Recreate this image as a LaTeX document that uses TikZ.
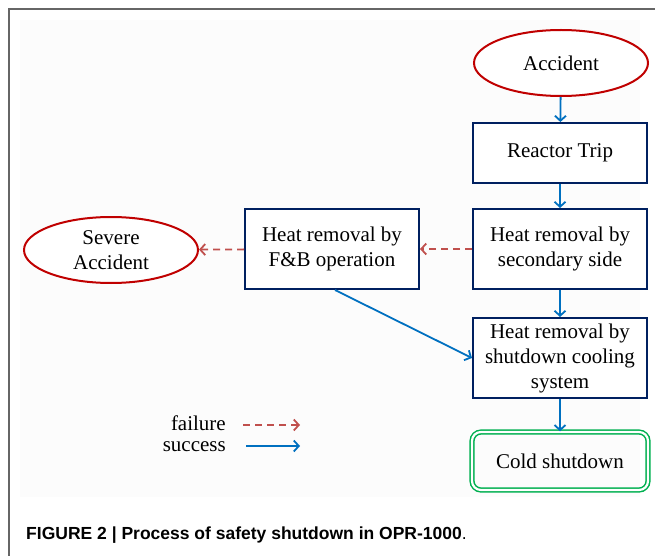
\documentclass[tikz,border=0pt]{standalone}
\usepackage{fontspec}
\setmainfont{Liberation Serif}
\newfontfamily\capfont{Liberation Sans}
\usetikzlibrary{shapes.geometric,arrows.meta}

\definecolor{boxblue}{RGB}{0,32,96}
\definecolor{okblue}{RGB}{0,112,192}
\definecolor{failred}{RGB}{192,80,77}
\definecolor{endred}{RGB}{192,0,0}
\definecolor{endgreen}{RGB}{0,176,80}

\tikzset{
  stage/.style={draw=boxblue, line width=2pt, fill=white, align=center,
    minimum width=174pt, minimum height=80pt, inner sep=2pt},
  endstate/.style={ellipse, draw=endred, line width=2pt, fill=white, align=center,
    minimum width=174pt, minimum height=66pt, inner sep=0pt},
  safestate/.style={draw=endgreen, double=white, line width=1.5pt, double distance=2.2pt,
    rounded corners=9pt, align=center, minimum width=176pt, minimum height=58pt},
  success/.style={draw=okblue, line width=1.8pt, -{Straight Barb[length=5pt,width=11pt]}},
  failure/.style={draw=failred, line width=1.8pt, dash pattern=on 7pt off 5pt,
    -{Straight Barb[length=5pt,width=11pt]}}
}

\begin{document}
\begin{tikzpicture}[x=1pt, y=-1pt, font=\fontsize{21}{25}\selectfont]
  \useasboundingbox (0,0) rectangle (655,556);
  % frame and panel
  \fill[black!1] (20,20) rectangle (640,497);
  \draw[black!60, line width=1.2pt] (9,556) -- (9,9) -- (655,9);

  % main chain
  \node[endstate] (acc) at (561,63) {Accident};
  \node[stage, minimum height=60pt] (trip) at (560,153) {Reactor Trip};
  \node[stage] (sec) at (560,249) {Heat removal by\\secondary side};
  \node[stage] (fb) at (332,249) {Heat removal by\\F\&B operation};
  \node[endstate] (severe) at (111,250) {Severe\\Accident};
  \node[stage] (sdc) at (560,358) {Heat removal by\\shutdown cooling\\system};
  \node[safestate] (cold) at (560,461) {Cold shutdown};

  \draw[success] (acc) -- (trip);
  \draw[success] (trip) -- (sec);
  \draw[success] (sec) -- (sdc);
  \draw[success] (sdc) -- (cold);
  \draw[success] (fb.south) ++(3,0) coordinate (fbout) (fbout) -- (sdc.west);
  \draw[failure] (sec) -- (fb);
  \draw[failure] (fb) -- (severe);

  % legend
  \node[anchor=east, inner sep=0pt] (lfail) at (226,423) {failure};
  \node[anchor=east, inner sep=0pt] (lok) at (226,447) {success};
  \coordinate (lfailend) at (300,425);
  \coordinate (lokend) at (300,446);
  \draw[failure] ([xshift=17pt]lfail.east |- lfailend) -- (lfailend);
  \draw[success] ([xshift=20pt]lok.east |- lokend) -- (lokend);

  % caption
  \node[anchor=west, inner sep=0pt, font=\capfont\fontsize{17.5}{20}\selectfont] (cap) at (26,535)
    {\bfseries FIGURE 2 | Process of safety shutdown in OPR-1000\mdseries.};
\end{tikzpicture}
\end{document}
